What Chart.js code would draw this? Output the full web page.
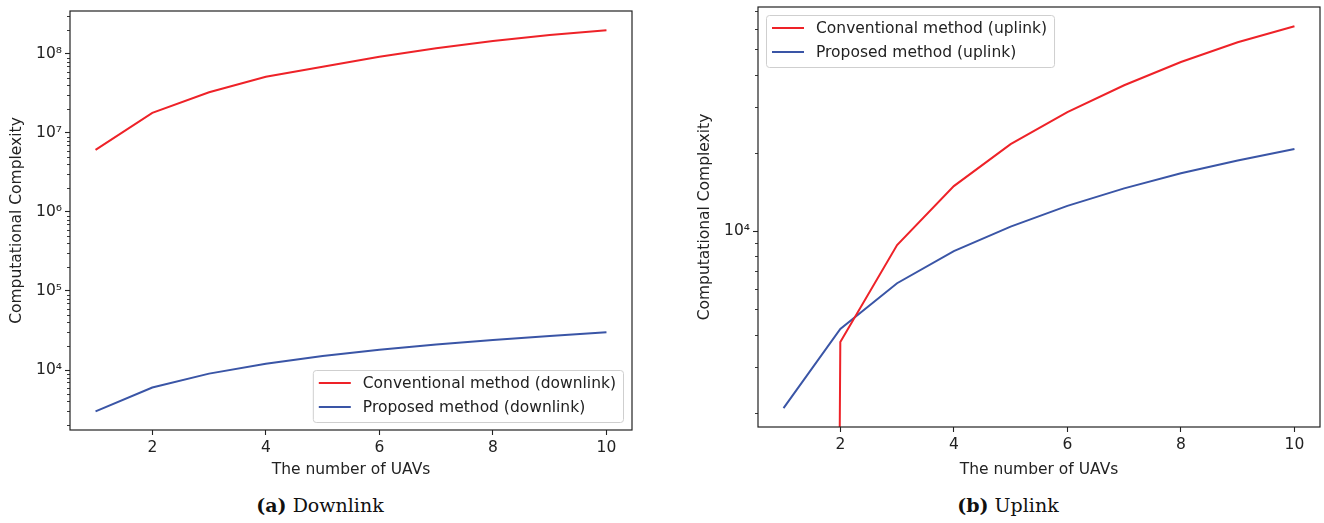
<!DOCTYPE html>
<html>
<head>
<meta charset="utf-8">
<script src="https://cdn.jsdelivr.net/npm/chart.js@4/dist/chart.umd.min.js"></script>
<style>
  html, body { margin: 0; padding: 0; background: #ffffff; }
  body { width: 1324px; height: 523px; position: relative; overflow: hidden; }
  canvas { position: absolute; }
  .cap { position: absolute; top: 494px; font-family: "DejaVu Serif", "Liberation Serif", serif; font-size: 19px; color: #111; white-space: nowrap; transform: translateX(-50%); }
</style>
</head>
<body>
<canvas id="down" width="650" height="490" style="left:0px;top:0px;"></canvas>
<canvas id="up" width="634" height="490" style="left:690px;top:0px;"></canvas>
<div class="cap" style="left:320px;"><b>(a)</b> Downlink</div>
<div class="cap" style="left:1008px;"><b>(b)</b> Uplink</div>
<script>
// ---- data ----
const uavCounts = [1, 2, 3, 4, 5, 6, 7, 8, 9, 10];
const conventionalDownlink = [6.1e6, 1.8e7, 3.28e7, 5.15e7, 6.9e7, 9.2e7, 1.18e8, 1.46e8, 1.74e8, 2.0e8];
const proposedDownlink = [3000, 6000, 9000, 12000, 15000, 18000, 21000, 24000, 27000, 30000];
// first value is zero (not representable on a log axis) -> tiny value so the segment drops off the axis
const conventionalUplink = [1e-30, 3740, 8840, 14900, 21600, 28700, 36400, 44700, 53300, 61400];
const proposedUplink = [2085, 4200, 6300, 8380, 10400, 12500, 14600, 16700, 18700, 20700];
const xTickValues = [2, 4, 6, 8, 10];
const downYTicks = [1e4, 1e5, 1e6, 1e7, 1e8];
const upYTicks = [1e4];
const supers = {'0':'⁰','1':'¹','2':'²','3':'³','4':'⁴','5':'⁵','6':'⁶','7':'⁷','8':'⁸','9':'⁹'};

const RED = '#ee2228';
const BLUE = '#3a55a6';
const INK = '#222222';
const FONT = '"DejaVu Sans", sans-serif';
const FS = 15.5;

function pts(ys) { return uavCounts.map((x, i) => ({ x: x, y: ys[i] })); }
function sup(v) { const e = Math.round(Math.log10(v)); return '10' + String(e).split('').map(c => supers[c]).join(''); }

// frame + minor ticks + legend plugin
const decor = {
  id: 'decor',
  afterDatasetsDraw(chart, args, opts) {
    const ctx = chart.ctx, a = chart.chartArea, ys = chart.scales.y;
    ctx.save();
    // minor log ticks
    ctx.strokeStyle = INK; ctx.lineWidth = 0.9;
    const lo = Math.floor(Math.log10(ys.min)), hi = Math.ceil(Math.log10(ys.max));
    for (let k = lo; k <= hi; k++) {
      for (let m = 2; m <= 9; m++) {
        const v = m * Math.pow(10, k);
        if (v < ys.min || v > ys.max) continue;
        const py = Math.round(ys.getPixelForValue(v)) + 0.5;
        ctx.beginPath(); ctx.moveTo(a.left - 3, py); ctx.lineTo(a.left, py); ctx.stroke();
      }
    }
    // frame
    ctx.lineWidth = 1.2; ctx.strokeStyle = INK;
    ctx.strokeRect(a.left, a.top, a.right - a.left, a.bottom - a.top);
    // legend
    ctx.font = FS + 'px ' + FONT;
    const items = chart.data.datasets;
    let tw = 0; items.forEach(d => { tw = Math.max(tw, ctx.measureText(d.label).width); });
    const padL = 6, lineLen = 32, gap = 12, padR = 7, rowH = 24, boxH = 52;
    const boxW = padL + lineLen + gap + tw + padR;
    let bx, by;
    if (opts.corner === 'lr') { bx = a.right - opts.dx - boxW; by = a.bottom - opts.dy - boxH; }
    else { bx = a.left + opts.dx; by = a.top + opts.dy; }
    ctx.beginPath();
    ctx.roundRect(bx + 0.5, by + 0.5, boxW, boxH, 3);
    ctx.fillStyle = 'rgba(255,255,255,0.85)'; ctx.fill();
    ctx.strokeStyle = '#cfcfcf'; ctx.lineWidth = 1; ctx.stroke();
    items.forEach((d, i) => {
      const cy = by + 13 + i * rowH;
      ctx.strokeStyle = d.borderColor; ctx.lineWidth = 2;
      ctx.beginPath(); ctx.moveTo(bx + padL, cy); ctx.lineTo(bx + padL + lineLen, cy); ctx.stroke();
      ctx.fillStyle = INK; ctx.textBaseline = 'middle'; ctx.textAlign = 'left';
      ctx.fillText(d.label, bx + padL + lineLen + gap, cy + 1);
    });
    ctx.restore();
  }
};

function makeChart(id, ds, yMin, yMax, yTicks, yWidth, pad, legendOpts, yTitlePad) {
  return new Chart(document.getElementById(id), {
    type: 'line',
    data: { datasets: ds },
    plugins: [decor],
    options: {
      responsive: false, animation: false, devicePixelRatio: 1,
      layout: { padding: pad },
      plugins: { legend: { display: false }, tooltip: { enabled: false }, decor: legendOpts },
      elements: { point: { radius: 0 }, line: { tension: 0, borderWidth: 2 } },
      scales: {
        x: {
          type: 'linear', min: 0.55, max: 10.45,
          afterBuildTicks: s => { s.ticks = xTickValues.map(v => ({ value: v })); },
          afterFit: s => { s.height = 490 - 430 - pad.bottom + (id === 'up' ? 3 : 0); s.paddingLeft = 0; s.paddingRight = 0; },
          ticks: { color: INK, font: { family: FONT, size: FS }, padding: 4, maxRotation: 0, autoSkip: false, callback: v => String(v) },
          grid: { drawOnChartArea: false, tickLength: 5, color: INK, tickWidth: 1.1 },
          border: { display: false },
          title: { display: true, text: 'The number of UAVs', color: INK, font: { family: FONT, size: FS }, padding: { top: 4, bottom: 11 } }
        },
        y: {
          type: 'logarithmic', min: yMin, max: yMax,
          afterBuildTicks: s => { s.ticks = yTicks.map(v => ({ value: v })); },
          afterFit: s => { s.width = yWidth; s.paddingTop = 0; s.paddingBottom = 0; },
          ticks: { color: INK, font: { family: FONT, size: FS }, padding: 3, autoSkip: false, callback: v => sup(v) },
          grid: { drawOnChartArea: false, tickLength: 5, color: INK, tickWidth: 1.1 },
          border: { display: false },
          title: { display: true, text: 'Computational Complexity', color: INK, font: { family: FONT, size: FS }, padding: { top: yTitlePad, bottom: 4 } }
        }
      }
    }
  });
}

makeChart('down', [
  { label: 'Conventional method (downlink)', data: pts(conventionalDownlink), borderColor: RED, backgroundColor: RED, fill: false },
  { label: 'Proposed method (downlink)', data: pts(proposedDownlink), borderColor: BLUE, backgroundColor: BLUE, fill: false }
], 1740, 3.5e8, downYTicks, 70, { top: 11, right: 18, left: 0, bottom: 0 }, { corner: 'lr', dx: 9, dy: 8 }, 8);

makeChart('up', [
  { label: 'Conventional method (uplink)', data: pts(conventionalUplink), borderColor: RED, backgroundColor: RED, fill: false },
  { label: 'Proposed method (uplink)', data: pts(proposedUplink), borderColor: BLUE, backgroundColor: BLUE, fill: false }
], 1763, 72800, upYTicks, 68, { top: 7, right: 4, left: 0, bottom: 0 }, { corner: 'ul', dx: 8, dy: 8 }, 6);
</script>
</body>
</html>
